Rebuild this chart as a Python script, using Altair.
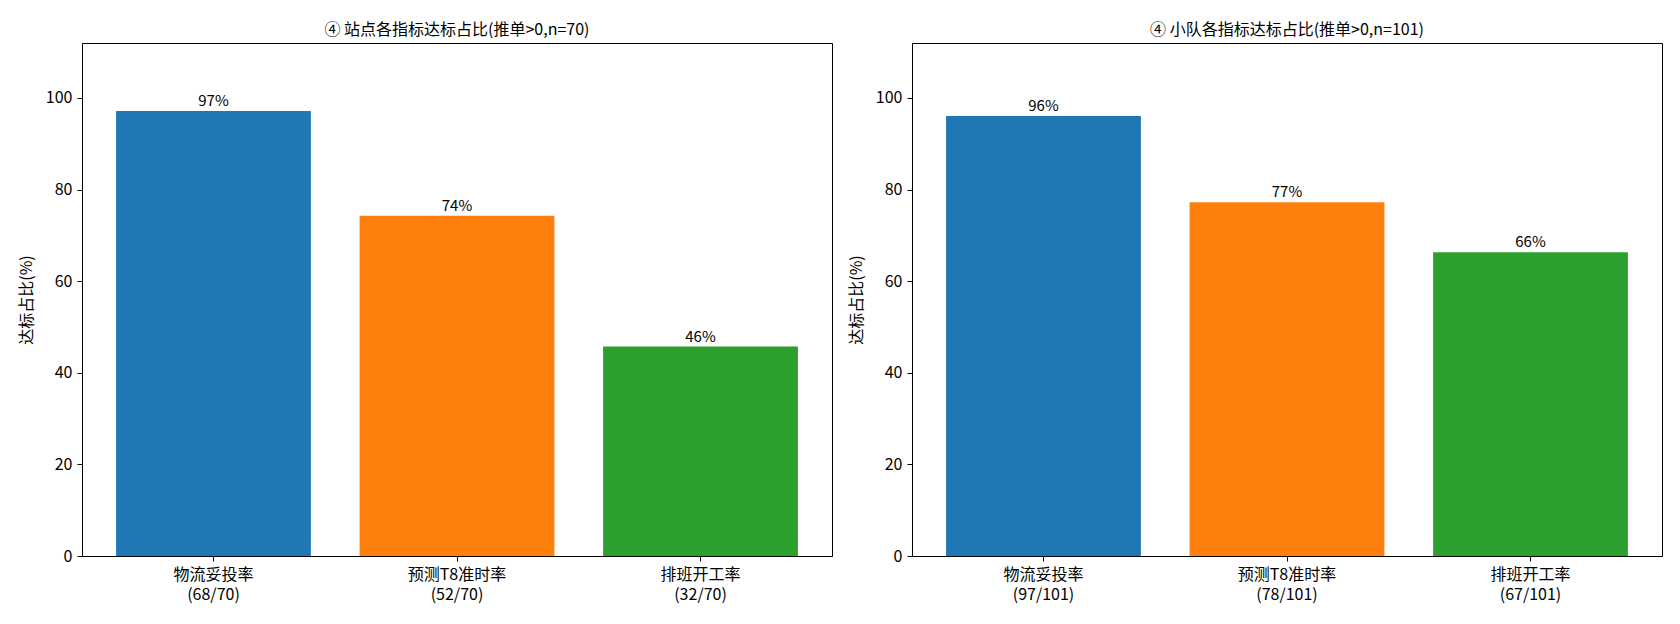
import altair as alt
import pandas as pd

FONT = "Noto Sans CJK SC"

metrics = ["物流妥投率", "预测T8准时率", "排班开工率"]
colors = ["#1f77b4", "#ff7f0e", "#2ca02c"]

site_hits = [68, 52, 32]
site_n = 70
team_hits = [97, 78, 67]
team_n = 101


def _panel(hits: list[int], n: int, title: str) -> alt.LayerChart:
    labels = [f"{m}\n({h}/{n})" for m, h in zip(metrics, hits)]
    data = pd.DataFrame(
        {
            "label": labels,
            "pct": [h / n * 100 for h in hits],
            "color": colors,
        }
    )
    data["text"] = data["pct"].round(0).astype(int).astype(str) + "%"

    base = alt.Chart(data).encode(
        x=alt.X(
            "label:N",
            sort=labels,
            title=None,
            scale=alt.Scale(paddingInner=0.2, paddingOuter=0.14),
            axis=alt.Axis(
                labelAngle=0,
                labelExpr="split(datum.label, '\\n')",
                labelLineHeight=20,
            ),
        ),
        y=alt.Y(
            "pct:Q",
            title="达标占比(%)",
            scale=alt.Scale(domain=[0, 112], nice=False),
            axis=alt.Axis(values=[0, 20, 40, 60, 80, 100]),
        ),
    )
    bars = base.mark_bar().encode(color=alt.Color("color:N", scale=None))
    text = base.mark_text(baseline="bottom", dy=-2, fontSize=15, font=FONT, color="black").encode(
        text="text:N"
    )
    return (bars + text).properties(
        width=750,
        height=513,
        title=alt.TitleParams(title, fontSize=16, fontWeight="normal", font=FONT, offset=5),
    )


left = _panel(site_hits, site_n, "④ 站点各指标达标占比(推单>0,n=70)")
right = _panel(team_hits, team_n, "④ 小队各指标达标占比(推单>0,n=101)")

chart = (
    alt.hconcat(left, right, spacing=14)
    .properties(padding={"left": 9, "top": 13, "right": 5, "bottom": 5})
    .configure(font=FONT)
    .configure_view(stroke="black", strokeWidth=1)
    .configure_axis(
        grid=False,
        domainColor="black",
        tickColor="black",
        labelColor="black",
        titleColor="black",
        labelFontSize=16,
        titleFontSize=16,
        titleFontWeight="normal",
        labelFont=FONT,
        titleFont=FONT,
        tickSize=5,
        labelPadding=5,
        titlePadding=11,
    )
)

chart.save("out.html", embed_options={"renderer": "svg", "actions": False})
